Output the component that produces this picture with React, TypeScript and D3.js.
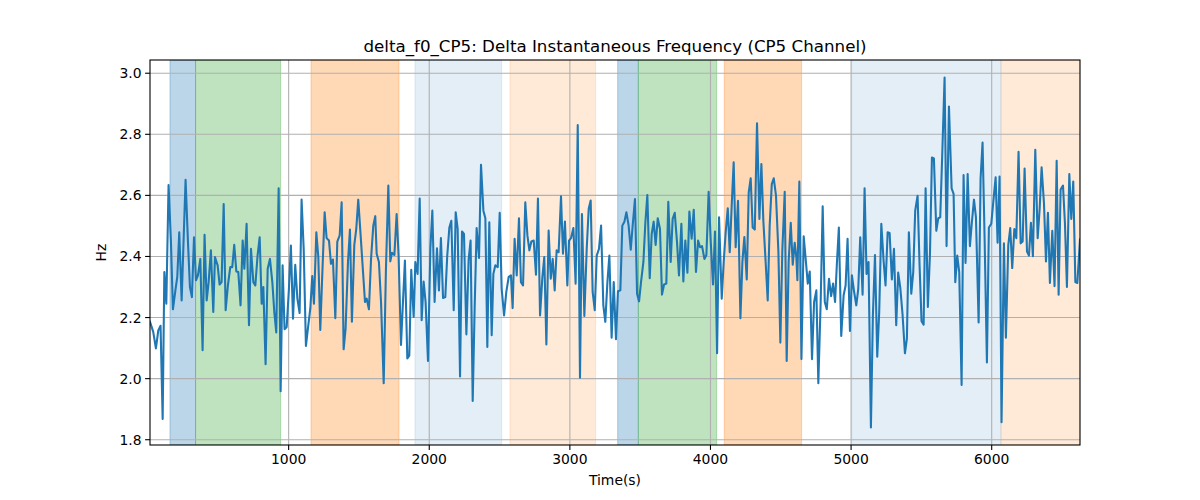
import React from "react";
import * as d3 from "d3";

const times: number[] = [
  14, 37, 56, 73, 89, 104, 116, 130, 146, 163, 177, 196, 208, 222, 239, 267, 284, 298, 312, 327, 341, 355, 372, 388, 402, 417, 431, 447, 464, 476, 495, 509, 523, 538, 552, 568, 585, 599, 613, 628, 642, 658, 673, 685, 701, 718, 732, 749, 763, 779, 794,
  808, 820, 836, 851, 867, 884, 898, 912, 929, 943, 957, 971, 986, 1002, 1016, 1031, 1047, 1062, 1078, 1092, 1107, 1123, 1137, 1154, 1168, 1180, 1197, 1211, 1225, 1239, 1256, 1270, 1287, 1301, 1315, 1332, 1346, 1363, 1377, 1391, 1405, 1422, 1436, 1450, 1467, 1481, 1495, 1512, 1529, 1543, 1555, 1571, 1586, 1602, 1616,
  1626, 1642, 1657, 1676, 1692, 1709, 1723, 1735, 1752, 1768, 1782, 1799, 1813, 1827, 1844, 1858, 1872, 1889, 1901, 1917, 1932, 1946, 1960, 1974, 1991, 2008, 2022, 2038, 2055, 2069, 2083, 2098, 2114, 2128, 2143, 2157, 2174, 2188, 2202, 2219, 2233, 2247, 2264, 2280, 2294, 2309, 2323, 2337, 2354, 2368, 2385, 2399, 2413, 2427,
  2444, 2456, 2470, 2487, 2501, 2515, 2532, 2548, 2565, 2581, 2593, 2607, 2622, 2638, 2652, 2667, 2683, 2698, 2712, 2726, 2743, 2759, 2773, 2788, 2804, 2818, 2833, 2849, 2864, 2878, 2892, 2906, 2920, 2937, 2951, 2965, 2982, 2994, 3008, 3025, 3041, 3056, 3072, 3086, 3103, 3120, 3134, 3148, 3162, 3177, 3191, 3207, 3222, 3238, 3252,
  3267, 3281, 3297, 3312, 3328, 3342, 3359, 3373, 3388, 3402, 3418, 3433, 3447, 3463, 3478, 3492, 3506, 3523, 3537, 3551, 3568, 3582, 3596, 3610, 3625, 3641, 3655, 3670, 3686, 3700, 3717, 3731, 3746, 3762, 3776, 3793, 3807, 3821, 3836, 3850, 3866, 3881, 3897, 3912, 3926, 3940, 3957, 3971, 3987, 4002, 4018, 4032, 4047, 4061,
  4080, 4094, 4108, 4123, 4137, 4151, 4165, 4179, 4196, 4213, 4227, 4241, 4258, 4272, 4286, 4300, 4315, 4331, 4348, 4362, 4376, 4393, 4407, 4421, 4436, 4450, 4466, 4483, 4497, 4511, 4528, 4542, 4556, 4571, 4585, 4599, 4611, 4618, 4632, 4647, 4663, 4677, 4692, 4706, 4722, 4737, 4753, 4767, 4784, 4798, 4813, 4827, 4843, 4858, 4872, 4886,
  4899, 4913, 4930, 4947, 4961, 4975, 4992, 5006, 5020, 5037, 5051, 5065, 5082, 5096, 5110, 5124, 5141, 5155, 5170, 5186, 5200, 5215, 5231, 5245, 5260, 5274, 5290, 5305, 5321, 5335, 5350, 5366, 5383, 5397, 5411, 5428, 5442, 5456, 5473, 5487, 5501, 5516, 5530, 5546, 5561, 5575, 5589, 5606, 5620, 5634, 5648, 5665, 5679, 5696,
  5715, 5729, 5741, 5755, 5769, 5786, 5800, 5814, 5829, 5845, 5859, 5874, 5888, 5907, 5921, 5935, 5950, 5966, 5980, 5997, 6011, 6028, 6042, 6056, 6070, 6087, 6101, 6118, 6132, 6146, 6161, 6175, 6191, 6206, 6220, 6234, 6251, 6265, 6279, 6293, 6310, 6327, 6341, 6355, 6372, 6386, 6400, 6414, 6431, 6447, 6462, 6476, 6490, 6507, 6521, 6535, 6552, 6566, 6580, 6595, 6609, 6628,
];

const values: number[] = [
  2.186, 2.153, 2.099, 2.158, 2.173, 1.868, 2.349, 2.245, 2.634, 2.447, 2.227, 2.294, 2.333, 2.479, 2.256, 2.651, 2.447, 2.3, 2.267, 2.463, 2.322, 2.338, 2.392, 2.093, 2.471, 2.256, 2.316, 2.42, 2.218, 2.398, 2.371, 2.308, 2.316, 2.572, 2.224, 2.305, 2.365, 2.365, 2.438, 2.351, 2.349, 2.24, 2.452, 2.36, 2.507, 2.175, 2.425, 2.316, 2.305, 2.403, 2.463,
  2.245, 2.3, 2.047, 2.36, 2.392, 2.316, 2.218, 2.151, 2.623, 1.959, 2.371, 2.162, 2.169, 2.294, 2.436, 2.196, 2.373, 2.262, 2.215, 2.586, 2.425, 2.107, 2.164, 2.229, 2.336, 2.245, 2.479, 2.398, 2.159, 2.338, 2.545, 2.46, 2.452, 2.376, 2.39, 2.198, 2.449, 2.469, 2.577, 2.096, 2.164, 2.382, 2.488, 2.186, 2.438, 2.49, 2.586, 2.469, 2.349, 2.251, 2.262, 2.227, 2.392, 2.501, 2.532,
  2.409, 2.382, 2.251, 1.985, 2.36, 2.632, 2.384, 2.412, 2.405, 2.539, 2.403, 2.11, 2.251, 2.387, 2.066, 2.075, 2.356, 2.202, 2.382, 2.343, 2.59, 2.191, 2.318, 2.251, 2.058, 2.427, 2.55, 2.251, 2.427, 2.289, 2.46, 2.264, 2.267, 2.403, 2.495, 2.517, 2.224, 2.545, 2.49, 2.007, 2.482, 2.474, 2.145, 2.39, 2.452, 1.927, 2.235, 2.493, 2.395, 2.7, 2.55, 2.525, 2.104, 2.512,
  2.142, 2.343, 2.371, 2.365, 2.543, 2.294, 2.207, 2.284, 2.333, 2.338, 2.231, 2.458, 2.338, 2.525, 2.316, 2.305, 2.577, 2.469, 2.42, 2.449, 2.452, 2.34, 2.59, 2.207, 2.329, 2.398, 2.112, 2.485, 2.327, 2.392, 2.289, 2.42, 2.414, 2.597, 2.409, 2.514, 2.305, 2.452, 2.46, 2.493, 2.311, 2.83, 2.003, 2.539, 2.205, 2.427, 2.556, 2.583, 2.284, 2.224, 2.403, 2.425, 2.501, 2.24, 2.186,
  2.316, 2.403, 2.134, 2.316, 2.129, 2.286, 2.289, 2.501, 2.514, 2.545, 2.501, 2.422, 2.503, 2.588, 2.278, 2.253, 2.316, 2.382, 2.512, 2.601, 2.329, 2.474, 2.514, 2.438, 2.525, 2.49, 2.275, 2.308, 2.311, 2.579, 2.382, 2.523, 2.543, 2.447, 2.338, 2.507, 2.318, 2.452, 2.347, 2.547, 2.458, 2.553, 2.349, 2.452, 2.43, 2.434, 2.392, 2.405, 2.612, 2.447, 2.308, 2.482, 2.083, 2.528,
  2.262, 2.382, 2.479, 2.558, 2.414, 2.567, 2.708, 2.43, 2.582, 2.198, 2.382, 2.464, 2.325, 2.61, 2.656, 2.495, 2.488, 2.836, 2.523, 2.703, 2.517, 2.376, 2.256, 2.501, 2.637, 2.656, 2.599, 2.416, 2.118, 2.42, 2.612, 2.058, 2.384, 2.51, 2.373, 2.445, 2.395, 2.322, 2.645, 2.064, 2.466, 2.392, 2.311, 2.351, 2.064, 2.251, 2.289, 1.985, 2.256, 2.564, 2.251, 2.227, 2.327, 2.27, 2.311, 2.251,
  2.376, 2.495, 2.14, 2.273, 2.305, 2.458, 2.156, 2.338, 2.289, 2.24, 2.294, 2.463, 2.275, 2.623, 2.343, 2.382, 1.84, 2.207, 2.405, 2.072, 2.218, 2.507, 2.387, 2.305, 2.479, 2.477, 2.325, 2.425, 2.175, 2.347, 2.297, 2.21, 2.083, 2.132, 2.479, 2.278, 2.349, 2.55, 2.599, 2.371, 2.188, 2.177, 2.623, 2.235, 2.409, 2.724, 2.721, 2.484, 2.525, 2.528, 2.73, 2.986, 2.434, 2.891,
  2.623, 2.605, 2.316, 2.403, 2.349, 1.979, 2.667, 2.379, 2.67, 2.434, 2.512, 2.586, 2.528, 2.184, 2.656, 2.773, 2.449, 2.053, 2.495, 2.507, 2.577, 2.659, 2.445, 2.662, 1.857, 2.443, 2.134, 2.438, 2.493, 2.362, 2.49, 2.46, 2.743, 2.443, 2.449, 2.688, 2.416, 2.403, 2.51, 2.401, 2.749, 2.46, 2.556, 2.692, 2.572, 2.384, 2.543, 2.313, 2.484, 2.303, 2.713, 2.275, 2.619, 2.632, 2.507, 2.3, 2.67, 2.523, 2.645, 2.316, 2.313, 2.456,
];

const spanStarts: number[] = [156, 338, 1159, 1898, 2574, 3340, 3487, 4098, 5004, 6066];
const spanEnds: number[] = [338, 943, 1785, 2515, 3183, 3487, 4044, 4648, 6066, 6628];
const spanColors: string[] = ["#1f77b4", "#2ca02c", "#ff7f0e", "#1f77b4", "#ff7f0e", "#1f77b4", "#2ca02c", "#ff7f0e", "#1f77b4", "#ff7f0e"];
const spanAlphas: number[] = [0.3, 0.3, 0.3, 0.12, 0.16, 0.3, 0.3, 0.3, 0.12, 0.16];

const xTicks: number[] = [1000, 2000, 3000, 4000, 5000, 6000];
const yTicks: number[] = [1.8, 2.0, 2.2, 2.4, 2.6, 2.8, 3.0];

const TITLE = "delta_f0_CP5: Delta Instantaneous Frequency (CP5 Channel)";
const X_LABEL = "Time(s)";
const Y_LABEL = "Hz";

export default function App() {
  const W = 1200, H = 500;
  const left = 150, right = 1080, top = 60, bottom = 445;
  const n = Math.min(times.length, values.length);
  const pts = d3.range(n).map((i) => ({ t: times[i], v: values[i] }));
  const [tMin, tMax] = d3.extent(times) as [number, number];
  const [vMin, vMax] = d3.extent(values) as [number, number];
  const pad = (vMax - vMin) * 0.05;
  const x = d3.scaleLinear().domain([tMin, tMax]).range([left, right]);
  const y = d3.scaleLinear().domain([vMin - pad, vMax + pad]).range([bottom, top]);
  const line = d3
    .line<{ t: number; v: number }>()
    .x((d) => x(d.t))
    .y((d) => y(d.v));
  const font = "DejaVu Sans, sans-serif";
  return (
    <svg width={W} height={H} style={{ display: "block", position: "absolute", left: 0, top: 0 }} fontFamily={font}>
      <rect x={0} y={0} width={W} height={H} fill="#fff" />
      <defs>
        <clipPath id="plotclip">
          <rect x={left} y={top} width={right - left} height={bottom - top} />
        </clipPath>
      </defs>
      <g clipPath="url(#plotclip)">
        {spanStarts.map((s, i) => (
          <rect
            key={i}
            x={x(s)}
            y={top}
            width={x(spanEnds[i]) - x(s)}
            height={bottom - top}
            fill={spanColors[i]}
            fillOpacity={spanAlphas[i]}
            stroke={spanColors[i]}
            strokeOpacity={spanAlphas[i]}
            strokeWidth={1}
          />
        ))}
        {xTicks.map((t) => (
          <line key={"gx" + t} x1={x(t)} x2={x(t)} y1={top} y2={bottom} stroke="#b0b0b0" strokeWidth={1.1} />
        ))}
        {yTicks.map((t) => (
          <line key={"gy" + t} x1={left} x2={right} y1={y(t)} y2={y(t)} stroke="#b0b0b0" strokeWidth={1.1} />
        ))}
        <path d={line(pts) || ""} fill="none" stroke="#1f77b4" strokeWidth={2.08} strokeLinejoin="round" strokeLinecap="square" />
      </g>
      <rect x={left} y={top} width={right - left} height={bottom - top} fill="none" stroke="#000" strokeWidth={1.1} />
      {xTicks.map((t) => (
        <g key={"tx" + t}>
          <line x1={x(t)} x2={x(t)} y1={bottom} y2={bottom + 4.9} stroke="#000" strokeWidth={1.1} />
          <text x={x(t)} y={bottom + 8.5} fontSize={13.9} textAnchor="middle" dominantBaseline="hanging" fill="#000">
            {t}
          </text>
        </g>
      ))}
      {yTicks.map((t) => (
        <g key={"ty" + t}>
          <line x1={left - 4.9} x2={left} y1={y(t)} y2={y(t)} stroke="#000" strokeWidth={1.1} />
          <text x={left - 8.5} y={y(t)} fontSize={13.9} textAnchor="end" dominantBaseline="central" fill="#000">
            {t.toFixed(1)}
          </text>
        </g>
      ))}
      <text x={(left + right) / 2} y={485} fontSize={13.9} textAnchor="middle" fill="#000">
        {X_LABEL}
      </text>
      <text
        x={0}
        y={0}
        fontSize={13.9}
        textAnchor="middle"
        fill="#000"
        transform={`translate(106, ${(top + bottom) / 2}) rotate(-90)`}
      >
        {Y_LABEL}
      </text>
      <text x={(left + right) / 2} y={52} fontSize={16.7} textAnchor="middle" fill="#000">
        {TITLE}
      </text>
    </svg>
  );
}
